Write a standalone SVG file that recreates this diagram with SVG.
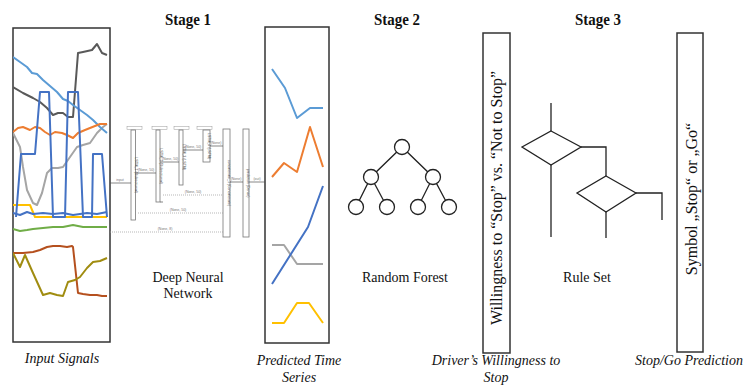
<svg xmlns="http://www.w3.org/2000/svg" width="747" height="385" viewBox="0 0 747 385">
<style>
.box{fill:#fff;stroke:#333;stroke-width:1.5}
.lbl{font-family:'Liberation Serif',serif;font-size:14px;fill:#111;text-anchor:middle}
.it{font-style:italic}
.title{font-family:'Liberation Serif',serif;font-size:16px;font-weight:bold;fill:#111;text-anchor:middle}
.rot{font-family:'Liberation Serif',serif;font-size:16px;fill:#111;text-anchor:middle}
.sig{fill:none;stroke-width:2;stroke-linejoin:round}
.bar{fill:#fff;stroke:#777;stroke-width:0.8}
.hdr{fill:#fff;stroke:#999;stroke-width:0.5}
.tiny{font-family:'Liberation Sans',sans-serif;font-size:3.5px;fill:#777;text-anchor:middle}
.tinyb{font-family:'Liberation Sans',sans-serif;font-size:3.5px;fill:#444;text-anchor:middle}
.ln{fill:none;stroke:#555;stroke-width:0.7}
.dot{fill:none;stroke:#999;stroke-width:0.7;stroke-dasharray:1 1}
.tree{fill:none;stroke:#222;stroke-width:1.3}
.node{fill:#fff;stroke:#222;stroke-width:1.3}
.rule{fill:none;stroke:#222;stroke-width:1.3}
</style>
<defs>
<clipPath id="clipIn"><rect x="13" y="28" width="97" height="314"/></clipPath>
</defs>

<text class="title" font-family="Liberation Serif" x="188" y="25" textLength="46" lengthAdjust="spacingAndGlyphs">Stage 1</text>
<text class="title" font-family="Liberation Serif" x="397" y="25" textLength="46" lengthAdjust="spacingAndGlyphs">Stage 2</text>
<text class="title" font-family="Liberation Serif" x="598" y="25" textLength="46" lengthAdjust="spacingAndGlyphs">Stage 3</text>

<g id="input-signals">
<rect class="box" x="13" y="28" width="97" height="314"/>
<g clip-path="url(#clipIn)">
<polyline class="sig" stroke="#A5A5A5" points="13,133 20,147 23,167 27,190 33,203 37,205 42,193 47,173 52,168 58,168 63,167 70,157 77,147 83,145 90,143 97,133 103,127 107,124"/>
<polyline class="sig" stroke="#595959" points="13,87 23,93 33,98 40,102 47,108 53,115 58,113 63,113 68,117 73,117 78,53 83,52 92,50 97,44 102,53 107,55"/>
<polyline class="sig" stroke="#5B9BD5" points="13,57 20,62 27,67 32,73 37,74 43,80 50,86 57,92 63,99 68,101 73,105 80,110 87,115 93,120 100,127 107,133"/>
<polyline class="sig" stroke="#ED7D31" points="13,132 18,128 23,127 30,130 35,127 40,128 45,132 50,135 55,132 62,133 67,135 73,138 78,133 85,130 90,128 95,126 100,124 107,124"/>
<polyline class="sig" stroke="#FFC000" points="13,205 30,205 35,217 107,217"/>
<polyline class="sig" stroke="#4472C4" points="13,213 20,215 27,212 33,214 43,213 53,214 63,213 73,215 87,213 97,214 107,212"/>
<polyline class="sig" stroke="#4472C4" points="16,217 21,154 35,154 40,92 49,92 53,217 65,217 68,92 78,92 83,217 92,217 93,154 102,154 107,217"/>
<polyline class="sig" stroke="#70AD47" points="13,229 20,231 27,230 33,229 43,228 53,227 63,227 73,225 83,227 93,227 107,227"/>
<polyline class="sig" stroke="#B5501E" points="13,253 18,253 23,253 33,252 40,250 47,247 53,246 60,246 67,247 72,246 73,247 78,293 83,294 90,295 97,295 102,296 107,296"/>
<polyline class="sig" stroke="#A08C10" points="13,253 20,267 25,255 33,273 43,295 50,293 57,295 63,296 68,282 75,280 80,277 87,268 93,262 100,261 107,258"/>
</g>
<text class="lbl it" font-family="Liberation Serif" x="62" y="363">Input Signals</text>
</g>

<g id="deep-neural-network">
<rect class="hdr" x="127" y="126.5" width="15" height="3"/>
<rect class="hdr" x="152" y="126.5" width="15" height="3"/>
<rect class="hdr" x="174" y="126.5" width="15" height="3"/>
<rect class="hdr" x="197" y="126.5" width="15" height="3"/>
<rect class="bar" x="131" y="130" width="4.5" height="90"/>
<rect class="bar" x="156" y="130" width="4" height="72"/>
<rect class="bar" x="179" y="130" width="4" height="55"/>
<rect class="bar" x="203" y="130" width="7" height="32" stroke="#444" stroke-width="1"/>
<rect class="bar" x="223" y="129" width="7" height="108"/>
<rect class="bar" x="243" y="129" width="6" height="108"/>
<text class="tinyb" transform="translate(134.5,175) rotate(90)">LSTM_1 (Bidirectional)</text>
<text class="tinyb" transform="translate(159.5,166) rotate(90)">LSTM_2 (Bidirectional)</text>
<text class="tinyb" transform="translate(182.5,157) rotate(90)">LSTM_3 (LSTM)</text>
<text class="tinyb" transform="translate(207.5,146) rotate(90)">LSTM_4 (LSTM)</text>
<text class="tinyb" transform="translate(227.5,183) rotate(90)">concatenate_1 (Concatenate)</text>
<text class="tinyb" transform="translate(247,183) rotate(90)">prediction (Dense)</text>
<text class="lbl" font-family="Liberation Serif" x="188" y="282">Deep Neural</text>
<text class="lbl" font-family="Liberation Serif" x="188" y="298">Network</text>
</g>

<g id="predicted-time-series">
<rect class="box" x="265" y="27" width="64" height="316"/>
<polyline class="sig" stroke="#5B9BD5" points="272,69 285,88 297,118 310,108 323,108"/>
<polyline class="sig" stroke="#ED7D31" points="272,177 284,163 297,172 310,127 323,167"/>
<polyline class="sig" stroke="#A5A5A5" points="272,245 284,245 297,264 323,264"/>
<polyline class="sig" stroke="#4472C4" points="272,284 308,227 323,186"/>
<polyline class="sig" stroke="#FFC000" points="272,323 284,323 297,303 309,303 323,323"/>
<text class="lbl it" font-family="Liberation Serif" x="299" y="365">Predicted Time</text>
<text class="lbl it" font-family="Liberation Serif" x="299" y="382">Series</text>
</g>

<g id="random-forest">
<polyline class="tree" points="356,207 371,177 402,147 433,177 449,207"/>
<line class="tree" x1="371" y1="177" x2="387" y2="207"/>
<line class="tree" x1="433" y1="177" x2="418" y2="207"/>
<circle class="node" cx="402" cy="147" r="7.5"/>
<circle class="node" cx="371" cy="177" r="7.5"/>
<circle class="node" cx="433" cy="177" r="7.5"/>
<circle class="node" cx="356" cy="207" r="7.5"/>
<circle class="node" cx="387" cy="207" r="7.5"/>
<circle class="node" cx="418" cy="207" r="7.5"/>
<circle class="node" cx="449" cy="207" r="7.5"/>
<text class="lbl" font-family="Liberation Serif" x="405" y="282">Random Forest</text>
</g>

<g id="willingness">
<rect class="box" x="483" y="33" width="27" height="320" stroke="#666"/>
<text class="rot" font-family="Liberation Serif" transform="translate(502,198) rotate(-90)">Willingness to “Stop” vs. “Not to Stop”</text>
<text class="lbl it" font-family="Liberation Serif" x="496" y="365">Driver’s Willingness to</text>
<text class="lbl it" font-family="Liberation Serif" x="496" y="382">Stop</text>
</g>

<g id="rule-set">
<line class="rule" x1="551" y1="103" x2="551" y2="131"/>
<polygon class="rule" points="551,131 581,147 551,165 522,147"/>
<polyline class="rule" points="581,147 606,147 606,176"/>
<polygon class="rule" points="606,176 636,193 606,212 577,193"/>
<polyline class="rule" points="636,193 662,193 662,220"/>
<line class="rule" x1="606" y1="212" x2="606" y2="238"/>
<line class="rule" x1="551" y1="165" x2="551" y2="237"/>
<text class="lbl" font-family="Liberation Serif" x="587" y="282">Rule Set</text>
</g>

<g id="stop-go-prediction">
<rect class="box" x="677" y="33" width="26" height="319" stroke="#555"/>
<text class="rot" font-family="Liberation Serif" transform="translate(697,199) rotate(-90)">Symbol „Stop“ or „Go“</text>
<text class="lbl it" font-family="Liberation Serif" x="689" y="365">Stop/Go Prediction</text>
</g>

<g id="connectors">
<line class="ln" x1="110" y1="183" x2="131" y2="183"/>
<line class="ln" x1="135.5" y1="173" x2="156" y2="173"/>
<line class="ln" x1="160" y1="162" x2="179" y2="162"/>
<line class="ln" x1="183" y1="150" x2="203" y2="150"/>
<line class="ln" x1="210" y1="146" x2="223" y2="146"/>
<line class="ln" x1="230" y1="182" x2="243" y2="182"/>
<line class="ln" x1="249" y1="182" x2="265" y2="182"/>
<line class="ln" x1="160" y1="202" x2="163" y2="202"/>
<line class="dot" x1="163" y1="195" x2="223" y2="195"/>
<line class="dot" x1="138" y1="213" x2="223" y2="213"/>
<line class="dot" x1="110" y1="232" x2="223" y2="232"/>
<text class="tiny" x="120" y="181">input</text>
<text class="tiny" x="146" y="171">(None, 50)</text>
<text class="tiny" x="170" y="160">(None, 50)</text>
<text class="tiny" x="193" y="148">(None, 50)</text>
<text class="tiny" x="216" y="144">(None)</text>
<text class="tiny" x="236" y="180">(None)</text>
<text class="tiny" x="257" y="180">(out)</text>
<text class="tiny" x="193" y="193">(None, 50)</text>
<text class="tiny" x="178" y="211">(None, 50)</text>
<text class="tiny" x="165" y="230">(None, 8)</text>
</g>
</svg>
